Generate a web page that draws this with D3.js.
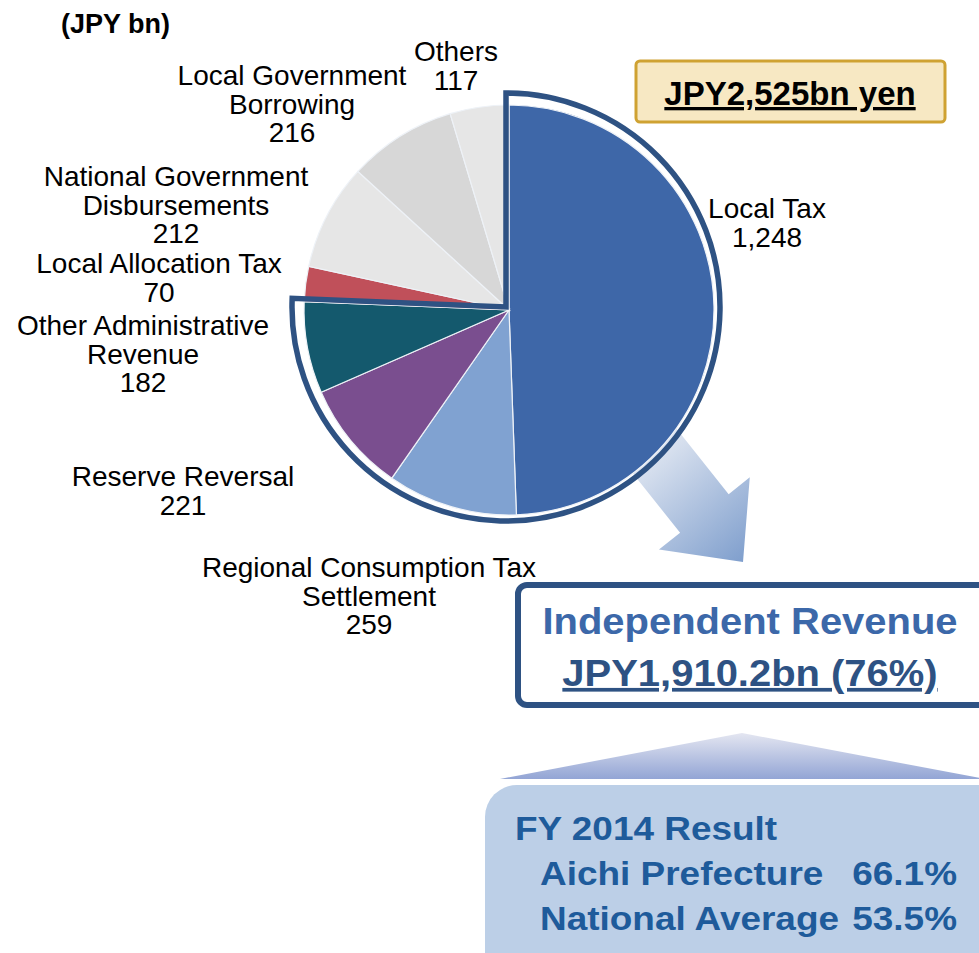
<!DOCTYPE html>
<html>
<head>
<meta charset="utf-8">
<script src="https://cdn.jsdelivr.net/npm/d3@7"></script>
<style>
  body { margin: 0; background: #fff; }
  svg { display: block; }
  text { font-family: "Liberation Sans", Arial, sans-serif; }
</style>
</head>
<body>
<div id="chart"></div>
<script>
// Revenue breakdown (JPY bn), clockwise from 12 o'clock
const categories = [
  "Local Tax",
  "Regional Consumption Tax Settlement",
  "Reserve Reversal",
  "Other Administrative Revenue",
  "Local Allocation Tax",
  "National Government Disbursements",
  "Local Government Borrowing",
  "Others"
];
const values = [1248, 259, 221, 182, 70, 212, 216, 117];
const labelLines = [
  ["Local Tax"],
  ["Regional Consumption Tax", "Settlement"],
  ["Reserve Reversal"],
  ["Other Administrative", "Revenue"],
  ["Local Allocation Tax"],
  ["National Government", "Disbursements"],
  ["Local Government", "Borrowing"],
  ["Others"]
];
const sliceColors = ["#3E67A8", "#80A2D1", "#7A4E8F", "#14596D", "#C0505A", "#E6E6E6", "#D7D7D7", "#E6E6E6"];
// first N slices make up independent revenue
const independentCount = 4;
const independentTotal = 1910.2;
const resultYear = "FY 2014";
const resultNames = ["Aichi Prefecture", "National Average"];
const resultValues = [66.1, 53.5];

const W = 979, H = 953;
const fmt = d3.format(",");

// label anchor (centre x, first baseline) for each slice
const labelPos = [
  [767, 218], [369, 577], [183, 486], [143, 335],
  [159, 273], [176, 186], [292, 85], [456, 61]
];

const svg = d3.select("#chart").append("svg")
  .attr("width", W)
  .attr("height", H);

const defs = svg.append("defs");

function addText(parent, x, y, str, o) {
  o = o || {};
  return parent.append("text")
    .attr("transform", `translate(${x},${y}) scale(${o.sx || 1},1)`)
    .attr("text-anchor", o.anchor || "middle")
    .attr("font-size", (o.size || 28) + "px")
    .attr("font-weight", o.bold ? "bold" : "normal")
    .attr("fill", o.fill || "#000")
    .style("text-decoration", o.underline ? "underline" : null)
    .style("white-space", "pre")
    .text(str);
}

// ---- arrow from the pie to the independent revenue box
const arrowGrad = defs.append("linearGradient")
  .attr("id", "arrowGrad")
  .attr("gradientUnits", "userSpaceOnUse")
  .attr("x1", 640).attr("y1", 445)
  .attr("x2", 745).attr("y2", 565);
arrowGrad.append("stop").attr("offset", 0).attr("stop-color", "#E6EBF4");
arrowGrad.append("stop").attr("offset", 1).attr("stop-color", "#7D9DCC");

const tip = [743, 562];
const u = [0.623, 0.783], v = [0.783, -0.623];
const headLen = 62, headHalf = 58, shaftHalf = 31, shaftLen = 140;
const base = [tip[0] - u[0] * headLen, tip[1] - u[1] * headLen];
const pt = (p, a, b) => [p[0] + u[0] * a + v[0] * b, p[1] + u[1] * a + v[1] * b];
const arrowPts = [
  pt(base, -shaftLen, shaftHalf), pt(base, 0, shaftHalf), pt(base, 0, headHalf),
  tip, pt(base, 0, -headHalf), pt(base, 0, -shaftHalf), pt(base, -shaftLen, -shaftHalf)
];
svg.append("path")
  .attr("d", d3.line()(arrowPts) + "Z")
  .attr("fill", "url(#arrowGrad)");

// ---- pie
const cx = 509, cy = 310, r = 205;
const pie = d3.pie().sort(null).value(d => d)(values);
const arc = d3.arc().innerRadius(0).outerRadius(r);

const pieG = svg.append("g").attr("transform", `translate(${cx},${cy})`);
pieG.selectAll("path.slice")
  .data(pie)
  .join("path")
  .attr("class", "slice")
  .attr("d", arc)
  .attr("fill", (d, i) => sliceColors[i])
  .attr("stroke", "#EEF2F7")
  .attr("stroke-width", 1.2);

// outline around independent revenue slices
const indepEnd = pie[independentCount - 1].endAngle;
svg.append("path")
  .attr("transform", `translate(${cx - 3},${cy - 3})`)
  .attr("d", d3.arc().innerRadius(0).outerRadius(r + 9).startAngle(0).endAngle(indepEnd)())
  .attr("fill", "none")
  .attr("stroke", "#2E5283")
  .attr("stroke-width", 5.5)
  .attr("stroke-linejoin", "miter");

// slice labels
const lineH = 28.5;
pie.forEach((d, i) => {
  const [lx, ly] = labelPos[i];
  const lines = labelLines[i].concat([fmt(values[i])]);
  lines.forEach((s, k) => addText(svg, lx, ly + k * lineH, s, { size: 28 }));
});

// unit
addText(svg, 61, 33, "(JPY bn)", { size: 27, bold: true, anchor: "start" });

// ---- total box
svg.append("rect")
  .attr("x", 636).attr("y", 61).attr("width", 309).attr("height", 61)
  .attr("rx", 4)
  .attr("fill", "#F7E8C3")
  .attr("stroke", "#CFA232")
  .attr("stroke-width", 3);
addText(svg, 790, 105, `JPY${fmt(d3.sum(values))}bn yen`, { size: 33, bold: true, underline: true });

// ---- independent revenue box
svg.append("rect")
  .attr("x", 518).attr("y", 585).attr("width", 480).attr("height", 120)
  .attr("rx", 9)
  .attr("fill", "#fff")
  .attr("stroke", "#2E5283")
  .attr("stroke-width", 6);
const share = Math.round(independentTotal / d3.sum(values) * 100);
addText(svg, 750, 634, "Independent Revenue", { size: 37, sx: 1.08, bold: true, fill: "#3C68A9" });
addText(svg, 750, 686, `JPY${d3.format(",.1f")(independentTotal)}bn (${share}%)`,
  { size: 37, sx: 1.08, bold: true, fill: "#2E5283", underline: true });

// ---- result panel
const roofGrad = defs.append("linearGradient")
  .attr("id", "roofGrad")
  .attr("x1", 0).attr("y1", 0).attr("x2", 0).attr("y2", 1);
roofGrad.append("stop").attr("offset", 0).attr("stop-color", "#E4E6F1");
roofGrad.append("stop").attr("offset", 1).attr("stop-color", "#93A5D5");
svg.append("path")
  .attr("d", d3.line()([[500, 779], [742, 733], [985, 779]]) + "Z")
  .attr("fill", "url(#roofGrad)");

svg.append("rect")
  .attr("x", 485).attr("y", 785).attr("width", 540).attr("height", 220)
  .attr("rx", 32)
  .attr("fill", "#BCCFE7");

const resG = svg.append("g");
addText(resG, 515, 840, `${resultYear} Result`, { size: 33, sx: 1.12, bold: true, fill: "#1E5B9B", anchor: "start" });
resultNames.forEach((name, i) => {
  const y = 885 + i * 45;
  addText(resG, 540, y, name, { size: 33, sx: 1.12, bold: true, fill: "#1E5B9B", anchor: "start" });
  addText(resG, 957, y, resultValues[i].toFixed(1) + "%", { size: 33, sx: 1.12, bold: true, fill: "#1E5B9B", anchor: "end" });
});
</script>
</body>
</html>
